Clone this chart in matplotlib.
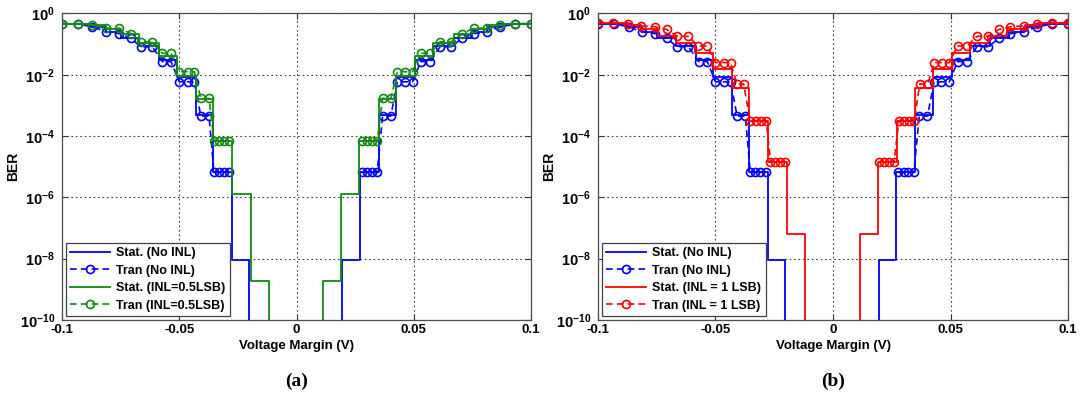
import numpy as np
import matplotlib.pyplot as plt

plt.rcParams['font.family'] = ['Liberation Sans', 'DejaVu Sans']
plt.rcParams['font.weight'] = 'bold'
plt.rcParams['mathtext.fontset'] = 'custom'
plt.rcParams['mathtext.rm'] = 'Liberation Sans:bold'
plt.rcParams['mathtext.bf'] = 'Liberation Sans:bold'
plt.rcParams['mathtext.default'] = 'bf'
plt.rcParams['axes.unicode_minus'] = False

nan = np.nan

# ---- datos (BER vs margen de voltaje) ----
# transitorio: puntos simulados, nan = hueco en el centro
v_tran = [-0.1, -0.0933, -0.087, -0.0812, -0.0756, -0.0706, -0.0665, -0.0615, -0.0572, -0.0535,
          -0.05, -0.0464, -0.0436, -0.0408, -0.0373, -0.0352, -0.033, -0.0309, -0.0287,
          0.0,
          0.0278, 0.03, 0.0321, 0.0344, 0.0367, 0.0402, 0.043, 0.0461, 0.0495, 0.053,
          0.0571, 0.0612, 0.066, 0.0706, 0.0755, 0.0812, 0.0869, 0.0933, 0.1]
ber_tran_noinl = [0.47, 0.45, 0.37, 0.25, 0.22, 0.155, 0.082, 0.082, 0.027, 0.027,
                  0.0059, 0.0059, 0.0059, 4.5e-4, 4.5e-4, 6.5e-6, 6.5e-6, 6.5e-6, 6.5e-6,
                  nan,
                  6.5e-6, 6.5e-6, 6.5e-6, 6.5e-6, 4.5e-4, 4.5e-4, 0.0059, 0.0059, 0.0059, 0.027,
                  0.027, 0.082, 0.082, 0.155, 0.22, 0.25, 0.37, 0.45, 0.47]
ber_tran_half = [0.47, 0.47, 0.42, 0.33, 0.33, 0.22, 0.12, 0.12, 0.05, 0.05,
                 0.0126, 0.0126, 0.0126, 0.0017, 0.0017, 6.9e-5, 6.9e-5, 6.9e-5, 6.9e-5,
                 nan,
                 6.9e-5, 6.9e-5, 6.9e-5, 6.9e-5, 0.0017, 0.0017, 0.0126, 0.0126, 0.0126, 0.05,
                 0.05, 0.12, 0.12, 0.22, 0.33, 0.33, 0.42, 0.47, 0.47]

v_tran_1lsb = [-0.1, -0.0936, -0.0872, -0.0815, -0.0758, -0.0708, -0.0663, -0.0616, -0.0574, -0.0535,
               -0.05, -0.0464, -0.0436, -0.0408, -0.038, -0.0353, -0.0329, -0.0307, -0.0284,
               -0.0266, -0.0245, -0.0224, -0.0203,
               0.0,
               0.0194, 0.0216, 0.0238, 0.026, 0.028, 0.0302, 0.0323, 0.0346, 0.0369, 0.0403,
               0.0431, 0.0462, 0.0495, 0.053, 0.0571, 0.0612, 0.066, 0.0706, 0.0755, 0.0812,
               0.0869, 0.0933, 0.1]
ber_tran_1lsb = [0.5, 0.5, 0.45, 0.39, 0.37, 0.30, 0.18, 0.18, 0.087, 0.087,
                 0.025, 0.025, 0.025, 0.005, 0.005, 3.2e-4, 3.2e-4, 3.2e-4, 3.2e-4,
                 1.45e-5, 1.45e-5, 1.45e-5, 1.45e-5,
                 nan,
                 1.45e-5, 1.45e-5, 1.45e-5, 1.45e-5, 3.2e-4, 3.2e-4, 3.2e-4, 3.2e-4, 0.005, 0.005,
                 0.025, 0.025, 0.025, 0.087, 0.087, 0.18, 0.18, 0.30, 0.37, 0.39,
                 0.45, 0.5, 0.5]

# estadistico: escalones (bordes y niveles), 1e-12 = fuera del grafico
edges_noinl = [-0.1, -0.0876, -0.0812, -0.0748, -0.067, -0.0585, -0.051, -0.0429, -0.0358, -0.0275,
               -0.0204, 0.0195, 0.027, 0.035, 0.0425, 0.0505, 0.0583, 0.067, 0.0748, 0.0812,
               0.0876, 0.1]
lev_noinl = [0.46, 0.36, 0.25, 0.16, 0.085, 0.031, 0.0087, 5.0e-4, 6.5e-6, 8.9e-9,
             1e-12,
             8.9e-9, 6.5e-6, 5.0e-4, 0.0087, 0.031, 0.085, 0.16, 0.25, 0.36, 0.46]

edges_half = [-0.1, -0.0876, -0.0812, -0.0748, -0.067, -0.0585, -0.051, -0.0429, -0.0355, -0.0273,
              -0.0195, -0.0117, 0.0113, 0.019, 0.0268, 0.035, 0.0425, 0.0505, 0.0583, 0.067,
              0.0748, 0.0812, 0.0876, 0.1]
lev_half = [0.47, 0.41, 0.32, 0.21, 0.11, 0.04, 0.0091, 0.0016, 6.9e-5, 1.3e-6, 1.9e-9,
            1e-12,
            1.9e-9, 1.3e-6, 6.9e-5, 0.0016, 0.0091, 0.04, 0.11, 0.21, 0.32, 0.41, 0.47]

edges_1lsb = [-0.1, -0.0872, -0.0815, -0.0744, -0.0666, -0.0588, -0.051, -0.0431, -0.0356, -0.0276,
              -0.0197, -0.0119, 0.0115, 0.0193, 0.0272, 0.035, 0.0427, 0.0506, 0.0583, 0.0661,
              0.0742, 0.0815, 0.0872, 0.1]
lev_1lsb = [0.50, 0.43, 0.32, 0.19, 0.105, 0.05, 0.016, 0.0036, 3.2e-4, 1.45e-5, 6.2e-8,
            1e-12,
            6.2e-8, 1.45e-5, 3.2e-4, 0.0036, 0.016, 0.05, 0.105, 0.19, 0.32, 0.43, 0.50]

xticks = [-0.1, -0.05, 0, 0.05, 0.1]
xlabels = ['-0.1', '-0.05', '0', '0.05', '0.1']
yticks = [1e0, 1e-2, 1e-4, 1e-6, 1e-8, 1e-10]
ylabels = ['$10^{0}$', '$10^{-2}$', '$10^{-4}$', '$10^{-6}$', '$10^{-8}$', '$10^{-10}$']

blue = '#0000ff'
green = '#138a13'
red = '#ff0000'
dash = (0, (4, 2.5))


def stat(ax, edges, lev, color, label):
    ax.plot(edges, list(lev) + [lev[-1]], drawstyle='steps-post', color=color, lw=1.3, label=label)


def tran(ax, v, ber, color, label):
    ax.plot(v, ber, color=color, ls=dash, lw=1.2, marker='o', ms=5.8, mfc='none',
            mew=1.2, label=label)


fig = plt.figure(figsize=(10.8, 3.95), dpi=100)
ax1 = fig.add_axes([0.0574, 0.1899, 0.4343, 0.776])
ax2 = fig.add_axes([0.5537, 0.1899, 0.4352, 0.776])

stat(ax1, edges_noinl, lev_noinl, blue, 'Stat. (No INL)')
tran(ax1, v_tran, ber_tran_noinl, blue, 'Tran (No INL)')
stat(ax1, edges_half, lev_half, green, 'Stat. (INL=0.5LSB)')
tran(ax1, v_tran, ber_tran_half, green, 'Tran (INL=0.5LSB)')

stat(ax2, edges_noinl, lev_noinl, blue, 'Stat. (No INL)')
tran(ax2, v_tran, ber_tran_noinl, blue, 'Tran (No INL)')
stat(ax2, edges_1lsb, lev_1lsb, red, 'Stat. (INL = 1 LSB)')
tran(ax2, v_tran_1lsb, ber_tran_1lsb, red, 'Tran (INL = 1 LSB)')

for ax, cap in [(ax1, '(a)'), (ax2, '(b)')]:
    ax.set_yscale('log')
    ax.set_xlim(-0.1, 0.1)
    ax.set_ylim(1e-10, 1e0)
    ax.set_xticks(xticks)
    ax.set_xticklabels(xlabels)
    ax.set_yticks(yticks)
    ax.set_yticklabels(ylabels)
    ax.minorticks_off()
    ax.tick_params(direction='in', top=True, right=True, length=4, width=0.8,
                   labelsize=9.5, colors='0.2', labelcolor='black', pad=3)
    ax.tick_params(axis='y', labelsize=10.5, pad=5)
    for s in ax.spines.values():
        s.set_color('0.3')
        s.set_linewidth(0.9)
    ax.grid(True, color='0.25', ls=(0, (1.5, 2.5)), lw=0.8)
    ax.set_xlabel('Voltage Margin (V)', fontsize=9.5, fontweight='bold', labelpad=3)
    ax.set_ylabel('BER', fontsize=10, fontweight='bold')
    ax.yaxis.set_label_coords(-0.089, 0.5)
    leg = ax.legend(loc='lower left', prop={'weight': 'bold', 'size': 9},
                    fancybox=False, framealpha=1, edgecolor='0.25', handlelength=3.2,
                    borderaxespad=0.3, labelspacing=0.45, borderpad=0.35, handletextpad=0.5)
    leg.get_frame().set_linewidth(0.9)
    pos = ax.get_position()
    fig.text(pos.x0 + pos.width / 2, 1 - 381 / 395, cap, ha='center', va='center',
             family=['Liberation Serif', 'DejaVu Serif'], fontweight='bold', fontsize=14)

fig.savefig('out.png', dpi=100)
